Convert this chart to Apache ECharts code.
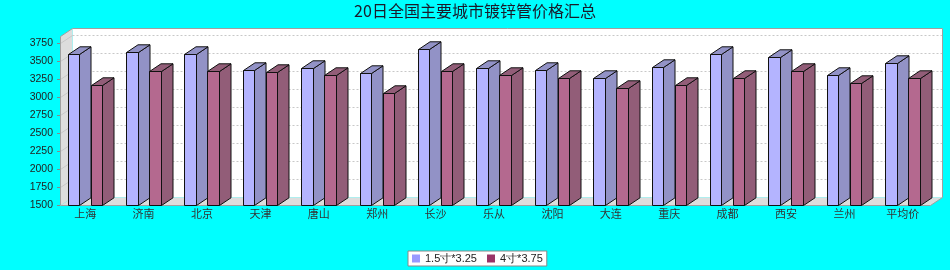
<!DOCTYPE html>
<html><head><meta charset="utf-8">
<script src="https://cdn.jsdelivr.net/npm/echarts@6/dist/echarts.min.js"></script>
<style>html,body{margin:0;padding:0;background:#00FFFF;} #c{width:950px;height:270px;}</style>
</head><body><div id="c"></div>
<script>
// ---- data ----
const categories = ['上海','济南','北京','天津','唐山','郑州','长沙','乐从','沈阳','大连','重庆','成都','西安','兰州','平均价'];
const series1Name = '1.5寸*3.25';
const series2Name = '4寸*3.75';
const series1Values = [3600, 3620, 3600, 3370, 3400, 3340, 3660, 3400, 3370, 3270, 3410, 3600, 3550, 3310, 3470];
const series2Values = [3170, 3360, 3360, 3350, 3300, 3060, 3360, 3300, 3270, 3130, 3160, 3270, 3360, 3200, 3260];
const yTicks = [1500, 1750, 2000, 2250, 2500, 2750, 3000, 3250, 3500, 3750];
const yMin = 1500, yMax = 3850;
const titleText = '20日全国主要城市镀锌管价格汇总';

// ---- style ----
const DX = 12, DY = 8;          // wall depth
const BW = 11.5, BDX = 11.5, BDY = 7.7; // bar width / depth
const BAR_OFF = -17.6;
const WALL = '#DDDDDD', OUTLINE = '#A0A0A0', GRID = '#C8C8C8';

const h = v => Math.round(v) + 0.5;

function bar3d(x, yTop, yBot, front, side) {
  const xl = h(x), xr = h(x + BW), yt = h(yTop), yb = h(yBot);
  const dx = BDX, dy = BDY;
  return { type: 'group', children: [
    { type: 'polygon', shape: { points: [[xr, yt], [xr + dx, yt - dy], [xr + dx, yb - dy], [xr, yb]] },
      style: { fill: side, stroke: '#111', lineWidth: 1 } },
    { type: 'polygon', shape: { points: [[xl, yt], [xl + dx, yt - dy], [xr + dx, yt - dy], [xr, yt]] },
      style: { fill: side, stroke: '#111', lineWidth: 1 } },
    { type: 'rect', shape: { x: xl, y: yt, width: xr - xl, height: yb - yt },
      style: { fill: front, stroke: '#111', lineWidth: 1 } }
  ]};
}

function makeBarRender(slot, front, side) {
  return function (params, api) {
    const i = api.value(0), v = api.value(1);
    const top = api.coord([i, v]);
    const bot = api.coord([i, yMin]);
    const x = top[0] + BAR_OFF + slot * 2 * BW;
    return bar3d(x, top[1], bot[1], front, side);
  };
}

function renderFrame(params, api) {
  const cs = params.coordSys;
  const L = h(cs.x + 4), R = h(cs.x + cs.width - 2);
  const yB = h(api.coord([0, yMin])[1]), yT = h(api.coord([0, yMax])[1]);
  const ch = [];
  ch.push({ type: 'rect', shape: { x: L + DX, y: yT - DY, width: R - L, height: yB - yT }, style: { fill: '#fff' } });
  ch.push({ type: 'polygon', shape: { points: [[L, yB], [L, yT], [L + DX, yT - DY], [L + DX, yB - DY]] }, style: { fill: WALL } });
  ch.push({ type: 'polygon', shape: { points: [[L, yB], [L + DX, yB - DY], [R + DX, yB - DY], [R, yB]] }, style: { fill: WALL } });
  yTicks.forEach(v => {
    if (v <= yMin) return;
    const y = h(api.coord([0, v])[1]);
    ch.push({ type: 'line', shape: { x1: L + DX, y1: y - DY, x2: R + DX, y2: y - DY },
      style: { stroke: GRID, lineWidth: 1, lineDash: [2, 2] } });
    ch.push({ type: 'line', shape: { x1: L, y1: y, x2: L + DX, y2: y - DY },
      style: { stroke: GRID, lineWidth: 1 } });
  });
  ch.push({ type: 'polygon', shape: { points: [[L, yB], [L, yT], [L + DX, yT - DY], [R + DX, yT - DY], [R + DX, yB - DY], [R, yB]] },
    style: { fill: null, stroke: OUTLINE, lineWidth: 1 } });
  return { type: 'group', children: ch };
}

const chart = echarts.init(document.getElementById('c'), null, { renderer: 'canvas' });
chart.setOption({
  animation: false,
  backgroundColor: '#00FFFF',
  title: {
    text: titleText, left: 'center', top: 3, padding: 0,
    textStyle: { fontSize: 16, fontWeight: 'normal', color: '#1a1a2a', fontFamily: 'Noto Sans CJK SC' }
  },
  legend: {
    data: [series1Name, series2Name], left: 408, top: 251, icon: 'rect',
    itemWidth: 8, itemHeight: 8, itemGap: 10, padding: [2, 4],
    backgroundColor: '#fff', borderColor: '#888', borderWidth: 1,
    textStyle: { fontSize: 11, color: '#222', fontFamily: 'Liberation Sans' }
  },
  grid: { left: 56, right: 18, top: 35.8, bottom: 65, containLabel: false },
  xAxis: {
    type: 'category', data: categories, boundaryGap: true,
    axisLine: { show: false }, axisTick: { show: false },
    axisLabel: { margin: 3, fontSize: 11, color: '#333', fontFamily: 'Noto Sans CJK SC', interval: 0 }
  },
  yAxis: {
    type: 'value', min: yMin, max: yMax, interval: 250, offset: -4,
    axisLine: { show: false },
    axisTick: { show: true, length: 3, customValues: yTicks, lineStyle: { color: '#888' } },
    axisLabel: { customValues: yTicks, margin: 7, fontSize: 10.5, color: '#222', fontFamily: 'Liberation Sans',
      formatter: v => String(v) },
    splitLine: { show: false }
  },
  series: [
    { type: 'custom', name: '_frame', data: [[0, yMin]], renderItem: renderFrame, silent: true, z: 1 },
    { type: 'custom', name: series1Name, itemStyle: { color: '#9999FF' },
      data: categories.map((c, i) => [i, series1Values[i]]), encode: { x: 0, y: 1 },
      renderItem: makeBarRender(0, '#B4B4FF', '#9292C6'), z: 2 },
    { type: 'custom', name: series2Name, itemStyle: { color: '#993366' },
      data: categories.map((c, i) => [i, series2Values[i]]), encode: { x: 0, y: 1 },
      renderItem: makeBarRender(1, '#B4698F', '#925D78'), z: 2 }
  ]
});
</script>
</body></html>
